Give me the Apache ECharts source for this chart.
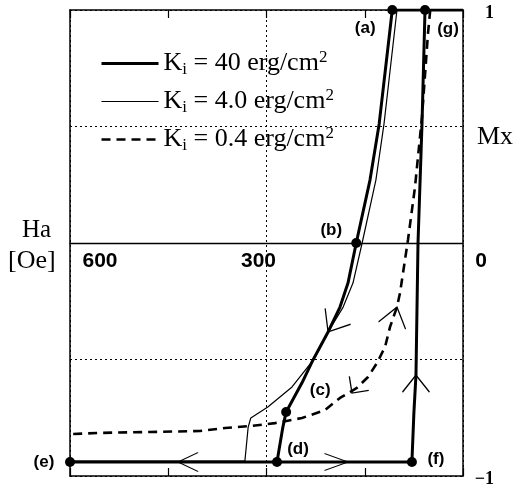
<!DOCTYPE html>
<html><head><meta charset="utf-8">
<script src="https://cdn.jsdelivr.net/npm/echarts@6/dist/echarts.min.js"></script>
<style>html,body{margin:0;padding:0;background:#fff}#c{width:522px;height:486px}</style>
</head><body><div id="c"></div>
<script>
// ---------- data ----------
// Ki = 40 erg/cm2 (thick solid): (a) -> (b) -> (c) -> (d) -> (e) -> (f) -> (g)
const k40Ha = [0, 108, 128, 142, 163, 175.6, 187.8, 206, 229, 246, 270, 275, 284, 600, 78, 75, 71.8, 68.7, 62.6, 58];
const k40Mx = [1, 1, 0.511, 0.27, 0, -0.172, -0.275, -0.382, -0.502, -0.601, -0.725, -0.79, -0.94, -0.94, -0.94, -0.73, -0.567, 0, 0.511, 1];
// Ki = 4.0 erg/cm2 (thin solid)
const k4Ha = [0, 100.8, 120.6, 133, 154, 168, 183, 206, 227.5, 261, 298, 324, 328, 333, 600];
const k4Mx = [1, 1, 0.511, 0.27, 0, -0.172, -0.275, -0.382, -0.498, -0.618, -0.704, -0.751, -0.79, -0.936, -0.936];
// Ki = 0.4 erg/cm2 (dashed)
const k04Ha = [50, 53.4, 62.6, 73.3, 84, 91.6, 96.2, 100.8, 111.5, 119, 131.3, 145, 162, 187.8, 210.7, 245.8, 287, 322, 363, 401.5, 478, 554, 600];
const k04Mx = [1, 0.901, 0.541, 0.24, 0.013, -0.129, -0.215, -0.275, -0.361, -0.446, -0.515, -0.575, -0.622, -0.665, -0.717, -0.751, -0.773, -0.785, -0.794, -0.807, -0.811, -0.815, -0.82];
// labelled state points
const pointNames = ['(a)', '(b)', '(c)', '(d)', '(e)', '(f)', '(g)'];
const pointHa = [108, 163, 270, 284, 600, 78, 58];
const pointMx = [1, 0, -0.725, -0.94, -0.94, -0.94, 1];
// direction arrows (apex positions)
const arrowHa = [206, 100.8, 169.5, 71.8, 435, 175.6];
const arrowMx = [-0.382, -0.275, -0.644, -0.567, -0.94, -0.94];
// legend / tick text
const seriesNames = ['Ki = 40 erg/cm2', 'Ki = 4.0 erg/cm2', 'Ki = 0.4 erg/cm2'];
const kiText = ['40', '4.0', '0.4'];
const xTickValues = [0, 300, 600];
const xTickText = ['0', '300', '600'];
const yTickValues = [1, -1];
const yTickText = ['1', '\u22121'];
const xMin = 0, xMax = 600, yMin = -1, yMax = 1;

// ---------- styles ----------
const labelOffsets = [[-27, 18], [-25, -13], [34, -22], [21, -13], [-26, 0], [24, -3], [23, 19]];
const arrowRot = [148, -15, 144, 0, 90, -90];
const arrowSize = [[30, 37], [28, 38], [24, 24], [27, 34], [19, 40], [17, 47]];
const xLabelPad = [[0, 0, 0, 36], [0, 16, 0, 0], [0, 0, 0, 60]];
const lineWidths = [3, 1.2, 2.6];
const lineTypes = ['solid', 'solid', [9, 6]];

const zip = (a, b) => a.map((v, i) => [v, b[i]]);
const serif = 'Liberation Serif';
const sans = 'Liberation Sans';

const W = 522, H = 486;
const gridRect = {left: 70, right: 59, top: 10, bottom: 10, containLabel: false, outerBoundsMode: 'none'};
const gridH = H - gridRect.top - gridRect.bottom;
// move the labelled Ha axis up to the Mx = 0 line
const zeroOffset = -gridH * (0 - yMin) / (yMax - yMin);

const chart = echarts.init(document.getElementById('c'), null, {renderer: 'canvas'});
const boxAxis = (pos) => ({
  type: 'value', gridIndex: 0, position: pos, min: xMin, max: xMax, interval: 150, inverse: true,
  axisLine: {show: true, onZero: false, lineStyle: {color: '#000', width: 1.5}},
  axisTick: {show: true, inside: true, length: 8, lineStyle: {color: '#000', width: 1.2}},
  axisLabel: {show: false}, splitLine: {show: false}
});

const rich = {};
xTickValues.forEach((v, i) => {
  rich['t' + i] = {fontFamily: sans, fontWeight: 'bold', fontSize: 21, color: '#000', padding: xLabelPad[i]};
});

chart.setOption({
  animation: false,
  backgroundColor: '#fff',
  grid: [Object.assign({}, gridRect), Object.assign({}, gridRect)],
  xAxis: [
    boxAxis('bottom'),
    boxAxis('top'),
    {
      type: 'value', gridIndex: 1, position: 'bottom', offset: zeroOffset,
      min: xMin, max: xMax, interval: 300, inverse: true,
      axisLine: {show: true, onZero: false, lineStyle: {color: '#000', width: 1.3}},
      axisTick: {show: false},
      axisLabel: {
        show: true, margin: 8, showMinLabel: true, showMaxLabel: true,
        formatter: (v) => {
          const i = xTickValues.indexOf(v);
          return i < 0 ? '' : '{t' + i + '|' + xTickText[i] + '}';
        },
        rich: rich
      },
      splitLine: {show: true, lineStyle: {color: '#000', width: 1, type: [2, 3]}}
    }
  ],
  yAxis: [
    {
      type: 'value', gridIndex: 0, position: 'left', min: yMin, max: yMax, interval: 0.5,
      axisLine: {show: true, onZero: false, lineStyle: {color: '#000', width: 1.5}},
      axisTick: {show: false}, axisLabel: {show: false},
      splitLine: {show: true, lineStyle: {color: '#000', width: 1, type: [2, 3]}}
    },
    {
      type: 'value', gridIndex: 0, position: 'right', min: yMin, max: yMax, interval: 0.5,
      axisLine: {show: true, onZero: false, lineStyle: {color: '#000', width: 1.5}},
      axisTick: {show: false}, splitLine: {show: false},
      axisLabel: {
        show: true, align: 'right', margin: 31,
        formatter: (v) => { const i = yTickValues.indexOf(v); return i < 0 ? '' : '{y|' + yTickText[i] + '}'; },
        rich: {y: {fontFamily: serif, fontWeight: 'bold', fontSize: 18, color: '#000', padding: [7, 0, 0, 0]}}
      }
    },
    {
      type: 'value', gridIndex: 1, position: 'left', min: yMin, max: yMax, show: false
    }
  ],
  legend: {
    orient: 'vertical', left: 100, top: 49, padding: 0, itemGap: 9,
    itemWidth: 57, itemHeight: 14,
    data: seriesNames.map((n, i) => ({
      name: n,
      lineStyle: {color: '#000', width: lineWidths[i], type: lineTypes[i]}
    })),
    itemStyle: {color: 'transparent', borderColor: 'transparent', borderWidth: 0, opacity: 0},
    formatter: (name) => {
      const i = seriesNames.indexOf(name);
      return '{k|K}{s|i}{k| = ' + kiText[i] + ' erg/cm}{p|2}';
    },
    textStyle: {
      rich: {
        k: {fontFamily: serif, fontSize: 26, color: '#000', lineHeight: 29},
        s: {fontFamily: serif, fontSize: 17, color: '#000', verticalAlign: 'bottom', lineHeight: 16},
        p: {fontFamily: serif, fontSize: 17, color: '#000', verticalAlign: 'top', lineHeight: 16}
      }
    }
  },
  graphic: [
    {type: 'text', left: 22, top: 218, style: {text: 'Ha', font: '25px "Liberation Serif"', fill: '#000'}},
    {type: 'text', left: 8, top: 248, style: {text: '[Oe]', font: '26px "Liberation Serif"', fill: '#000'}},
    {type: 'text', left: 477, top: 124, style: {text: 'Mx', font: '26px "Liberation Serif"', fill: '#000'}}
  ],
  series: [
    {
      name: seriesNames[0], type: 'line', xAxisIndex: 0, yAxisIndex: 0, data: zip(k40Ha, k40Mx),
      symbol: 'none', z: 4,
      lineStyle: {color: '#000', width: lineWidths[0], join: 'round'}, itemStyle: {color: '#000'}
    },
    {
      name: seriesNames[1], type: 'line', xAxisIndex: 0, yAxisIndex: 0, data: zip(k4Ha, k4Mx),
      symbol: 'none', z: 3,
      lineStyle: {color: '#000', width: lineWidths[1]}, itemStyle: {color: '#000'}
    },
    {
      name: seriesNames[2], type: 'line', xAxisIndex: 0, yAxisIndex: 0, data: zip(k04Ha, k04Mx),
      symbol: 'none', z: 3,
      lineStyle: {color: '#000', width: lineWidths[2], type: lineTypes[2]}, itemStyle: {color: '#000'}
    },
    {
      type: 'scatter', xAxisIndex: 0, yAxisIndex: 0, z: 6, symbol: 'circle', symbolSize: 10,
      itemStyle: {color: '#000', opacity: 1},
      data: pointNames.map((n, i) => ({
        name: n, value: [pointHa[i], pointMx[i]],
        label: {show: true, position: 'inside', offset: labelOffsets[i], formatter: '{b}',
          fontFamily: sans, fontWeight: 'bold', fontSize: 17, color: '#000'}
      }))
    },
    {
      type: 'scatter', xAxisIndex: 0, yAxisIndex: 0, z: 5,
      symbol: 'path://M12,-16 M0,16 L12,0 L24,16',
      itemStyle: {color: 'transparent', borderColor: '#000', borderWidth: 1.3, opacity: 1},
      data: arrowHa.map((h, i) => ({
        value: [h, arrowMx[i]], symbolRotate: arrowRot[i], symbolSize: arrowSize[i]
      }))
    }
  ]
});
</script></body></html>
